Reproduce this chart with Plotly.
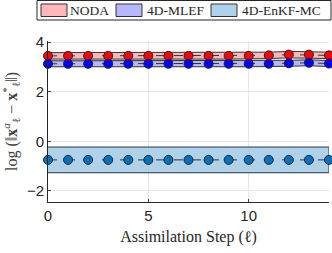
import plotly.graph_objects as go

steps = list(range(15))
noda = [3.45, 3.45, 3.45, 3.45, 3.45, 3.45, 3.45, 3.45, 3.45, 3.45, 3.45, 3.47, 3.5, 3.5, 3.47]
mlef = [3.13, 3.13, 3.13, 3.13, 3.13, 3.13, 3.13, 3.13, 3.13, 3.13, 3.13, 3.13, 3.15, 3.17, 3.14]
enkf = [-0.75] * 15
noda_spread = [0.13] * 15
mlef_spread = [0.12] * 15
enkf_spread = [0.52] * 15
legend_names = ["NODA", "4D-MLEF", "4D-EnKF-MC"]

fills = ["rgba(255,175,175,0.9)", "rgba(175,175,255,0.9)", "rgba(165,205,232,0.9)"]
markers = ["#ff0000", "#0000ff", "#0072BD"]
series = [noda, mlef, enkf]
spreads = [noda_spread, mlef_spread, enkf_spread]

fig = go.Figure()
for name, vals, spr, fillc in zip(legend_names, series, spreads, fills):
    hi = [v + s for v, s in zip(vals, spr)]
    lo = [v - s for v, s in zip(vals, spr)]
    fig.add_trace(go.Scatter(
        x=steps + steps[::-1], y=hi + lo[::-1], fill="toself", fillcolor=fillc,
        line=dict(color="#333333", width=1), mode="lines", name=name,
        showlegend=False, hoverinfo="skip"))
for name, vals, mc in zip(legend_names, series, markers):
    fig.add_trace(go.Scatter(
        x=steps, y=vals, mode="lines+markers", showlegend=False, name=name,
        line=dict(color="#333333", width=1, dash="dash"),
        marker=dict(color=mc, size=9, line=dict(color="#222222", width=1)),
        cliponaxis=False))

# manual legend (pixel layout converted to paper coords)
L, R, T, B = 48, 329, 41, 202
px = lambda v: (v - L) / (R - L)
py = lambda v: (B - v) / (B - T)
shapes = [dict(type="rect", xref="paper", yref="paper", x0=px(37), x1=px(331), y0=py(20), y1=py(0.5),
               line=dict(color="#262626", width=1), fillcolor="white")]
annotations = []
patch_x = [41, 116, 211]
text_x = [68, 145, 240]
for name, fillc, x0, tx in zip(legend_names, fills, patch_x, text_x):
    shapes.append(dict(type="rect", xref="paper", yref="paper", x0=px(x0), x1=px(x0 + 26),
                       y0=py(16.5), y1=py(4), line=dict(color="#333333", width=1), fillcolor=fillc))
    annotations.append(dict(text=name, xref="paper", yref="paper", x=px(tx), y=py(10.5),
                            xanchor="left", yanchor="middle", showarrow=False,
                            font=dict(family="Liberation Serif", size=13.5, color="#262626")))

fig.update_layout(
    width=332, height=253,
    margin=dict(l=L, r=332 - R, t=T, b=253 - B, autoexpand=False),
    plot_bgcolor="white", paper_bgcolor="white",
    showlegend=False, shapes=shapes, annotations=annotations,
    font=dict(family="Liberation Sans, Arial", color="#262626"),
)
fig.update_xaxes(range=[0, 14], tickvals=[0, 5, 10], ticks="inside", ticklen=3,
                 showgrid=True, gridcolor="#e6e6e6", zeroline=False, automargin=False,
                 showline=True, linecolor="#262626", linewidth=1,
                 tickfont=dict(size=15, color="#262626"),
                 title=dict(text="Assimilation Step (ℓ)", standoff=7,
                            font=dict(family="Liberation Serif", size=16, color="#262626")))
fig.update_yaxes(range=[-2.45, 4.05], tickvals=[-2, 0, 2, 4], ticks="inside", ticklen=3,
                 showgrid=True, gridcolor="#e6e6e6", zeroline=False, automargin=False,
                 showline=True, linecolor="#262626", linewidth=1,
                 tickfont=dict(size=15, color="#262626"),
                 title=dict(text="log (‖<b>x</b><sup><i>a</i></sup><sub>ℓ</sub> − <b>x</b><sup>*</sup><sub>ℓ</sub>‖)",
                            standoff=6,
                            font=dict(family="Liberation Serif", size=16, color="#404040")))

fig.write_html("out.html", config={"displayModeBar": False},
               post_script="document.body.style.margin='0';document.body.style.padding='0';")
